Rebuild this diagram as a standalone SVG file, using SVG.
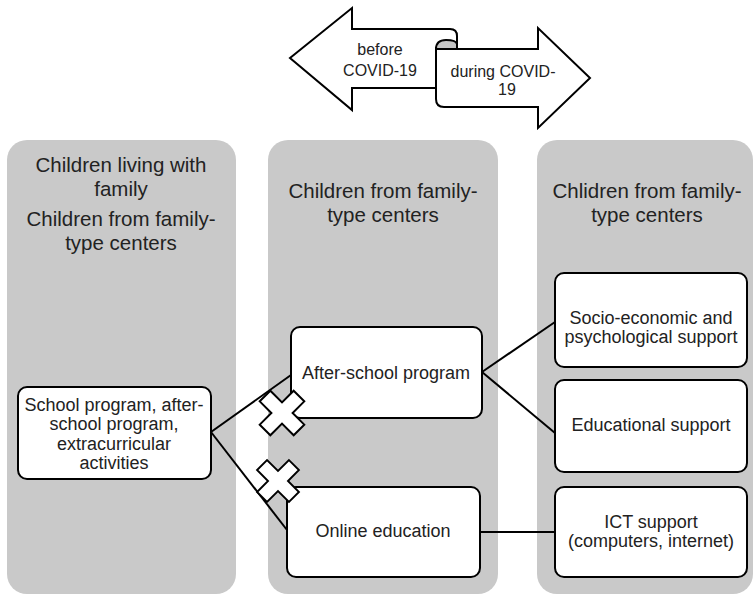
<svg xmlns="http://www.w3.org/2000/svg" width="755" height="595" viewBox="0 0 755 595">
  <style>
    .panel { fill: #c9c9c9; stroke: none; }
    .box { fill: #ffffff; stroke: #000000; stroke-width: 2; }
    .shape { fill: #ffffff; stroke: #000000; stroke-width: 2; stroke-linejoin: miter; }
    .head { font-family: "Liberation Sans", Arial, sans-serif; font-size: 20.5px; fill: #222222; text-anchor: middle; }
    .lbl { font-family: "Liberation Sans", Arial, sans-serif; font-size: 18px; fill: #222222; text-anchor: middle; }
    .arr { font-family: "Liberation Sans", Arial, sans-serif; font-size: 16px; fill: #222222; text-anchor: middle; }
    .link { stroke: #000000; stroke-width: 2; fill: none; }
  </style>
  <defs>
    <!-- plus sign, rotated 45 degrees where used to form an X -->
    <path id="cross" d="M-7.5,-24 H7.5 V-7.5 H24 V7.5 H7.5 V24 H-7.5 V7.5 H-24 V-7.5 H-7.5 Z"/>
  </defs>
  <rect width="755" height="595" fill="#ffffff"/>

  <!-- time arrows -->
  <g id="time-arrows">
    <path class="shape" d="M290,58 L352,8 L352,29 L450,29 Q457,29 457,36 L457,48 L436,48 L436,88 L352,88 L352,110 Z"/>
    <path d="M436,49 Q436,40 446,40 Q456,40 457,44 L457,49 Z" fill="#c4c4c4" stroke="#000" stroke-width="2"/>
    <path class="shape" d="M436,49 L538,49 L538,28 L590,78 L538,128 L538,107 L444,107 Q436,107 436,99 Z"/>
    <path d="M457,44 L457,49" stroke="#000" stroke-width="2"/>
    <text class="arr" x="380" y="55">before</text>
    <text class="arr" x="380" y="76">COVID-19</text>
    <text class="arr" x="503" y="77">during COVID-</text>
    <text class="arr" x="507" y="95">19</text>
  </g>

  <!-- column panels -->
  <g id="panel-before">
    <rect class="panel" x="7" y="140" width="229" height="454" rx="20"/>
    <text class="head" x="121" y="172">Children living with</text>
    <text class="head" x="121" y="196">family</text>
    <text class="head" x="121" y="226">Children from family-</text>
    <text class="head" x="121" y="250">type centers</text>
  </g>
  <g id="panel-during">
    <rect class="panel" x="268" y="140" width="230" height="454" rx="20"/>
    <text class="head" x="383" y="198">Children from family-</text>
    <text class="head" x="383" y="222">type centers</text>
  </g>
  <g id="panel-support">
    <rect class="panel" x="537" y="140" width="216" height="454" rx="20"/>
    <text class="head" x="647" y="198">Chlidren from family-</text>
    <text class="head" x="647" y="222">type centers</text>
  </g>

  <!-- connectors -->
  <g id="connectors">
    <line class="link" x1="211" y1="432" x2="291" y2="375"/>
    <line class="link" x1="211" y1="432" x2="287" y2="530"/>
    <line class="link" x1="482" y1="372" x2="555" y2="322"/>
    <line class="link" x1="482" y1="372" x2="555" y2="433"/>
    <line class="link" x1="480" y1="532" x2="555" y2="532"/>
  </g>

  <g id="school-program">
    <rect class="box" x="18" y="387" width="193" height="92" rx="9"/>
    <text class="lbl" x="114" y="411">School program, after-</text>
    <text class="lbl" x="114" y="430">school program,</text>
    <text class="lbl" x="114" y="450">extracurricular</text>
    <text class="lbl" x="114" y="469">activities</text>
  </g>
  <g id="after-school">
    <rect class="box" x="291" y="327" width="191" height="91" rx="9"/>
    <text class="lbl" x="386" y="379">After-school program</text>
  </g>
  <g id="online-education">
    <rect class="box" x="287" y="487" width="193" height="90" rx="9"/>
    <text class="lbl" x="383" y="537">Online education</text>
  </g>
  <g id="socio-support">
    <rect class="box" x="555" y="273" width="192" height="94" rx="9"/>
    <text class="lbl" x="651" y="324">Socio-economic and</text>
    <text class="lbl" x="651" y="343">psychological support</text>
  </g>
  <g id="educational-support">
    <rect class="box" x="555" y="380" width="192" height="92" rx="9"/>
    <text class="lbl" x="651" y="431">Educational support</text>
  </g>
  <g id="ict-support">
    <rect class="box" x="555" y="487" width="192" height="90" rx="9"/>
    <text class="lbl" x="651" y="528">ICT support</text>
    <text class="lbl" x="651" y="547">(computers, internet)</text>
  </g>

  <!-- cancelled links -->
  <g id="cross-after-school">
    <use href="#cross" class="shape" transform="translate(282,413) rotate(45)"/>
  </g>
  <g id="cross-online">
    <use href="#cross" class="shape" transform="translate(278,481) rotate(45) scale(0.94)"/>
  </g>
</svg>
